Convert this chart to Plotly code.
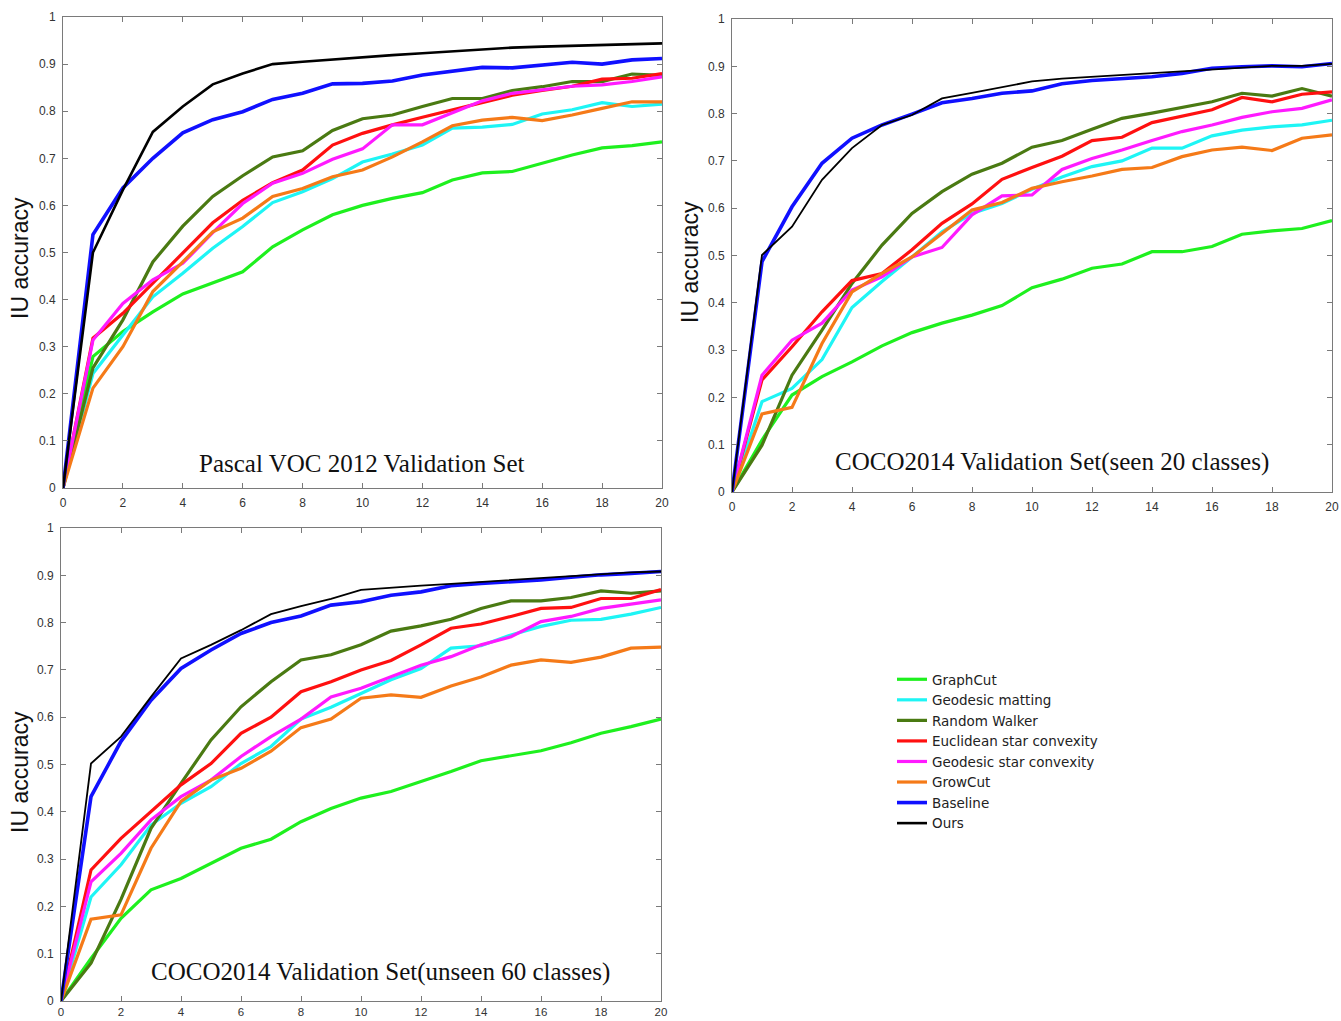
import plotly.graph_objects as go

x_vals = list(range(21))

names = ["GraphCut", "Geodesic matting", "Random Walker", "Euclidean star convexity",
         "Geodesic star convexity", "GrowCut", "Baseline", "Ours"]
colors = ["#1ef01e", "#1ef5f5", "#4a7a12", "#ff1010", "#ff1aff", "#f57a18", "#1010ff", "#000000"]

# Pascal VOC 2012 validation set
voc_graphcut = [0, 0.279, 0.332, 0.374, 0.412, 0.435, 0.459, 0.512, 0.548, 0.58, 0.600, 0.615, 0.627, 0.654, 0.669, 0.672, 0.689, 0.707, 0.722, 0.727, 0.735]
voc_geomat = [0, 0.243, 0.325, 0.406, 0.456, 0.509, 0.555, 0.606, 0.629, 0.657, 0.692, 0.709, 0.728, 0.764, 0.766, 0.772, 0.794, 0.803, 0.818, 0.81, 0.815]
voc_rw = [0, 0.255, 0.357, 0.48, 0.556, 0.619, 0.663, 0.703, 0.716, 0.759, 0.784, 0.792, 0.81, 0.827, 0.827, 0.844, 0.852, 0.863, 0.863, 0.879, 0.876]
voc_euc = [0, 0.318, 0.371, 0.435, 0.498, 0.563, 0.611, 0.648, 0.675, 0.728, 0.753, 0.771, 0.787, 0.803, 0.818, 0.834, 0.844, 0.853, 0.868, 0.87, 0.88]
voc_geostar = [0, 0.314, 0.392, 0.442, 0.477, 0.542, 0.604, 0.647, 0.668, 0.698, 0.72, 0.771, 0.771, 0.796, 0.822, 0.838, 0.846, 0.853, 0.856, 0.863, 0.873]
voc_growcut = [0, 0.212, 0.30, 0.417, 0.48, 0.544, 0.573, 0.619, 0.636, 0.661, 0.675, 0.703, 0.735, 0.769, 0.781, 0.787, 0.78, 0.792, 0.806, 0.82, 0.82]
voc_baseline = [0, 0.538, 0.637, 0.70, 0.754, 0.782, 0.799, 0.825, 0.838, 0.858, 0.859, 0.864, 0.877, 0.885, 0.893, 0.892, 0.898, 0.904, 0.90, 0.909, 0.912]
voc_ours = [0, 0.50, 0.633, 0.756, 0.81, 0.857, 0.88, 0.90, 0.905, 0.91, 0.915, 0.919, 0.923, 0.927, 0.931, 0.935, 0.937, 0.939, 0.941, 0.942, 0.944]

# COCO2014 seen 20 classes
seen_graphcut = [0, 0.11, 0.205, 0.244, 0.275, 0.309, 0.337, 0.357, 0.374, 0.394, 0.432, 0.45, 0.473, 0.482, 0.508, 0.508, 0.519, 0.545, 0.552, 0.557, 0.574]
seen_geomat = [0, 0.191, 0.219, 0.28, 0.39, 0.445, 0.497, 0.55, 0.589, 0.61, 0.64, 0.666, 0.688, 0.70, 0.727, 0.727, 0.753, 0.765, 0.772, 0.776, 0.786]
seen_rw = [0, 0.099, 0.247, 0.342, 0.441, 0.522, 0.589, 0.635, 0.672, 0.695, 0.729, 0.743, 0.767, 0.79, 0.801, 0.813, 0.825, 0.843, 0.837, 0.853, 0.837]
seen_euc = [0, 0.237, 0.307, 0.381, 0.447, 0.462, 0.512, 0.568, 0.609, 0.661, 0.686, 0.71, 0.743, 0.75, 0.781, 0.795, 0.808, 0.834, 0.825, 0.841, 0.846]
seen_geostar = [0, 0.247, 0.321, 0.357, 0.427, 0.455, 0.497, 0.517, 0.586, 0.626, 0.628, 0.682, 0.705, 0.723, 0.743, 0.762, 0.776, 0.792, 0.804, 0.811, 0.829]
seen_growcut = [0, 0.165, 0.179, 0.314, 0.423, 0.462, 0.497, 0.547, 0.596, 0.612, 0.642, 0.656, 0.668, 0.682, 0.686, 0.709, 0.723, 0.729, 0.722, 0.748, 0.755]
seen_baseline = [0, 0.487, 0.603, 0.695, 0.748, 0.776, 0.799, 0.823, 0.832, 0.843, 0.848, 0.863, 0.87, 0.874, 0.878, 0.885, 0.896, 0.899, 0.901, 0.899, 0.906]
seen_ours = [0, 0.501, 0.561, 0.66, 0.727, 0.776, 0.797, 0.832, 0.844, 0.856, 0.868, 0.874, 0.878, 0.882, 0.885, 0.89, 0.894, 0.898, 0.901, 0.901, 0.905]

# COCO2014 unseen 60 classes
unseen_graphcut = [0, 0.09, 0.175, 0.235, 0.259, 0.291, 0.323, 0.342, 0.379, 0.407, 0.429, 0.443, 0.464, 0.485, 0.508, 0.518, 0.529, 0.546, 0.566, 0.58, 0.596]
unseen_geomat = [0, 0.22, 0.288, 0.372, 0.418, 0.453, 0.502, 0.538, 0.596, 0.621, 0.65, 0.679, 0.703, 0.746, 0.751, 0.774, 0.792, 0.805, 0.807, 0.818, 0.832]
unseen_rw = [0, 0.08, 0.215, 0.365, 0.46, 0.552, 0.622, 0.675, 0.721, 0.732, 0.753, 0.782, 0.793, 0.807, 0.83, 0.846, 0.846, 0.853, 0.867, 0.862, 0.867]
unseen_euc = [0, 0.277, 0.344, 0.40, 0.457, 0.502, 0.566, 0.60, 0.654, 0.675, 0.70, 0.72, 0.753, 0.788, 0.797, 0.813, 0.83, 0.832, 0.851, 0.851, 0.87]
unseen_geostar = [0, 0.252, 0.312, 0.383, 0.432, 0.467, 0.517, 0.559, 0.596, 0.643, 0.661, 0.686, 0.71, 0.728, 0.753, 0.77, 0.802, 0.813, 0.83, 0.839, 0.848]
unseen_growcut = [0, 0.173, 0.182, 0.323, 0.422, 0.467, 0.492, 0.528, 0.578, 0.596, 0.64, 0.647, 0.642, 0.666, 0.685, 0.71, 0.721, 0.716, 0.727, 0.746, 0.748]
unseen_baseline = [0, 0.432, 0.549, 0.636, 0.703, 0.742, 0.777, 0.80, 0.814, 0.837, 0.844, 0.858, 0.865, 0.878, 0.883, 0.886, 0.89, 0.896, 0.901, 0.904, 0.908]
unseen_ours = [0, 0.502, 0.559, 0.643, 0.724, 0.753, 0.784, 0.818, 0.835, 0.85, 0.869, 0.874, 0.878, 0.882, 0.886, 0.89, 0.893, 0.897, 0.902, 0.906, 0.908]

panel_titles = ["Pascal VOC 2012 Validation Set",
                "COCO2014 Validation Set(seen 20 classes)",
                "COCO2014 Validation Set(unseen 60 classes)"]
panels = [
    [voc_graphcut, voc_geomat, voc_rw, voc_euc, voc_geostar, voc_growcut, voc_baseline, voc_ours],
    [seen_graphcut, seen_geomat, seen_rw, seen_euc, seen_geostar, seen_growcut, seen_baseline, seen_ours],
    [unseen_graphcut, unseen_geomat, unseen_rw, unseen_euc, unseen_geostar, unseen_growcut, unseen_baseline, unseen_ours],
]
x_ticks = list(range(0, 21, 2))
y_ticks = [0, 0.1, 0.2, 0.3, 0.4, 0.5, 0.6, 0.7, 0.8, 0.9, 1]
y_ticktext = ["0", "0.1", "0.2", "0.3", "0.4", "0.5", "0.6", "0.7", "0.8", "0.9", "1"]

W, H = 1341, 1021
# pixel boxes (left, right, top, bottom)
boxes = [(63, 662, 17, 488), (732, 1332, 19, 492), (61, 661, 528, 1001)]
x_standoff = [4, 4, 0]
black_width = [2.6, 1.8, 1.8]

fig = go.Figure()
for p, series in enumerate(panels):
    ax = "" if p == 0 else str(p + 1)
    for i, ys in enumerate(series):
        w = 3.2
        if i == 7:
            w = black_width[p]
        elif i == 6:
            w = 3.6
        fig.add_trace(go.Scatter(
            x=x_vals, y=ys, mode="lines", name=names[i],
            line=dict(color=colors[i], width=w),
            xaxis="x" + ax, yaxis="y" + ax,
            showlegend=(p == 0),
        ))

axis_common = dict(showgrid=False, zeroline=False, showline=True, linecolor="#7a7a7a",
                   linewidth=1, mirror="ticks", ticks="inside", ticklen=5, tickcolor="#7a7a7a",
                   automargin=False)
layout_axes = {}
for p, (l, r, t, b) in enumerate(boxes):
    ax = "" if p == 0 else str(p + 1)
    xfont = dict(family="Liberation Sans", size=12 if p < 2 else 11.5, color="#333333")
    layout_axes["xaxis" + ax] = dict(
        domain=[l / W, r / W], anchor="y" + ax, range=[0, 20],
        tickmode="array", tickvals=x_ticks, ticklabelstandoff=x_standoff[p],
        tickfont=xfont, **axis_common)
    layout_axes["yaxis" + ax] = dict(
        domain=[1 - b / H, 1 - t / H], anchor="x" + ax, range=[0, 1],
        tickmode="array", tickvals=y_ticks, ticktext=y_ticktext, ticklabelstandoff=4,
        tickfont=dict(family="Liberation Sans", size=12, color="#333333"), **axis_common)

annotations = []
title_pos = [(362, 463), (1052, 462), (380, 972)]
for p, (tx, ty) in enumerate(title_pos):
    annotations.append(dict(text=panel_titles[p], x=tx / W, y=1 - ty / H, xref="paper", yref="paper",
                            showarrow=False, xanchor="center", yanchor="middle",
                            font=dict(family="Liberation Serif", size=25, color="#111111")))
ylabel_pos = [(20, 258), (690, 262), (20, 772)]
for (lx, ly) in ylabel_pos:
    annotations.append(dict(text="IU accuracy", x=lx / W, y=1 - ly / H, xref="paper", yref="paper",
                            showarrow=False, textangle=-90, xanchor="center", yanchor="middle",
                            font=dict(family="Liberation Sans", size=23, color="#111111")))

fig.update_layout(
    width=W, height=H,
    margin=dict(l=0, r=0, t=0, b=0, autoexpand=False),
    paper_bgcolor="white", plot_bgcolor="white",
    annotations=annotations,
    legend=dict(x=892 / W, y=1 - 664 / H, xanchor="left", yanchor="top",
                font=dict(family="DejaVu Sans", size=13.5, color="#222222"),
                tracegroupgap=0, itemwidth=30, bgcolor="rgba(0,0,0,0)"),
    **layout_axes,
)

fig.write_html("out.html", config={"displayModeBar": False},
               post_script="document.body.style.margin='0';document.body.style.overflow='hidden';")
